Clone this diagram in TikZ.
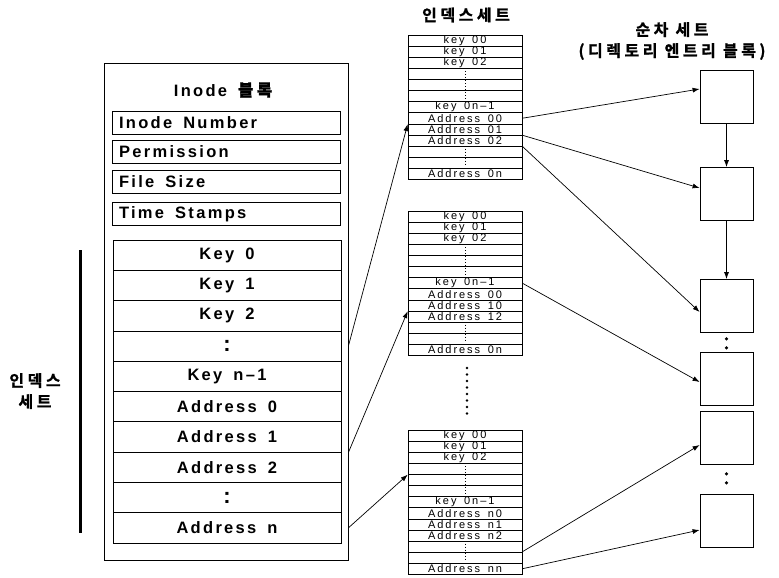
\documentclass[tikz,border=0pt]{standalone}
\usepackage{fontspec}
\setmainfont{Liberation Sans}
\newfontfamily\kor{Noto Sans CJK KR Bold}[LetterSpace=22, FakeBold=1.2]
\newfontfamily\bigfam{Liberation Sans}[LetterSpace=14, WordSpace=1.6]
\newfontfamily\smallfam{Liberation Sans}[LetterSpace=18, WordSpace=1.5]
\usetikzlibrary{arrows.meta}

\newcommand\bigtxt{\fontsize{16.5}{18}\selectfont\bigfam\bfseries}
\newcommand\smalltxt{\fontsize{11}{10}\selectfont\smallfam}
\newcommand\kortxt{\fontsize{16}{21}\selectfont\kor}
\newcommand\lefttxt[1]{\makebox[214pt][l]{#1}}

\tikzset{
  field/.style={draw, line width=0.8pt, minimum height=23pt, inner xsep=7pt, font=\bigtxt},
  krow/.style={draw, line width=0.8pt, minimum width=228pt, minimum height=30.3pt, font=\bigtxt},
  srow/.style={draw, line width=0.6pt, minimum width=114pt, minimum height=11.1pt, inner sep=0pt, font=\smalltxt},
  sblock/.style={draw, line width=0.8pt, minimum size=53pt, inner sep=0pt},
  ptr/.style={-{Latex[length=7pt,width=5pt]}, line width=0.7pt},
  dotline/.style={line width=1pt, dotted, shorten <=3pt, shorten >=3pt}
}
\newcommand\vdot{{\fontsize{22}{22}\selectfont\bfseries :}}

\begin{document}
\begin{tikzpicture}[x=1pt,y=-1pt]
\useasboundingbox (0,0) rectangle (779,578);

% inode block
\node[draw, line width=0.8pt, minimum width=244pt, minimum height=497pt] (inode) at (226,311.5) {};
\node[font=\bigtxt] (ititle) at (223,90) {Inode {\kor 블록}};
\foreach \t/\y [count=\i] in {Inode Number/122.5, Permission/151.5, File Size/181.5, Time Stamps/214}
  \node[field] (f\i) at (226,\y) {\lefttxt{\t}};
\foreach \t [count=\i] in {Key 0,Key 1,Key 2,\vdot,Key n–1,Address 0,Address 1,Address 2,\vdot,Address n}
  \node[krow] (k\i) at (227,{240+30.3*(\i-0.5)}) {\t};

% index set bracket
\draw[line width=3pt] (80,250) -- (80,533);
\node[font=\kortxt, align=center] (iset) at (35,391) {인덱스\\세트};

% index sets
\node[font=\kortxt] (ttl1) at (466,15) {인덱스세트};
\foreach \t [count=\i] in {key 00,key 01,key 02,{},{},{},key 0n–1,Address 00,Address 01,Address 02,{},{},Address 0n}
  \node[srow] (a\i) at (465,{35+11.1*(\i-0.5)}) {\t};
\foreach \t [count=\i] in {key 00,key 01,key 02,{},{},{},key 0n–1,Address 00,Address 10,Address 12,{},{},Address 0n}
  \node[srow] (b\i) at (465,{211+11.1*(\i-0.5)}) {\t};
\foreach \t [count=\i] in {key 00,key 01,key 02,{},{},{},key 0n–1,Address n0,Address n1,Address n2,{},{},Address nn}
  \node[srow] (c\i) at (465,{430+11.1*(\i-0.5)}) {\t};
\foreach \tb in {a,b,c} {
  \draw[dotline] (\tb4.north) -- (\tb6.south);
  \draw[dotline] (\tb11.north) -- (\tb12.south);
}
\foreach \y in {368,374.5,...,416}
  \fill (467,\y) circle (1.3pt);

% sequence set
\node[font=\kortxt, align=center] (ttl2) at (672,41) {순차 세트\\(디렉토리 엔트리 블록)};
\foreach \y [count=\i] in {97,194,306,379,438,521}
  \node[sblock] (s\i) at (726.5,\y) {};
\draw[ptr] (s1.south) -- (s2.north);
\draw[ptr] (s2.south) -- (s3.north);
\fill (s3.south) ++(0,6) circle (1.8pt) ++(0,9) circle (1.8pt);
\fill (s5.south) ++(0,9) circle (1.8pt) ++(0,9) circle (1.8pt);

% pointers
\draw[ptr] (inode.east |- k4) -- (a8.south west);
\draw[ptr] (inode.east |- k7.south) -- (b9.south west);
\draw[ptr] (inode.east |- k10) -- (c4.south west);
\draw[ptr] (a8.east) -- ([yshift=8pt]s1.west);
\draw[ptr] (a9.south east) -- ([yshift=6pt]s2.west);
\draw[ptr] (a10.south east) -- ([yshift=-6pt]s3.west);
\draw[ptr] (b7.east) -- ([yshift=-3pt]s4.west);
\draw[ptr] (c12.north east) -- ([yshift=-7pt]s5.west);
\draw[ptr] (c13.east) -- ([yshift=-9pt]s6.west);
\end{tikzpicture}
\end{document}
